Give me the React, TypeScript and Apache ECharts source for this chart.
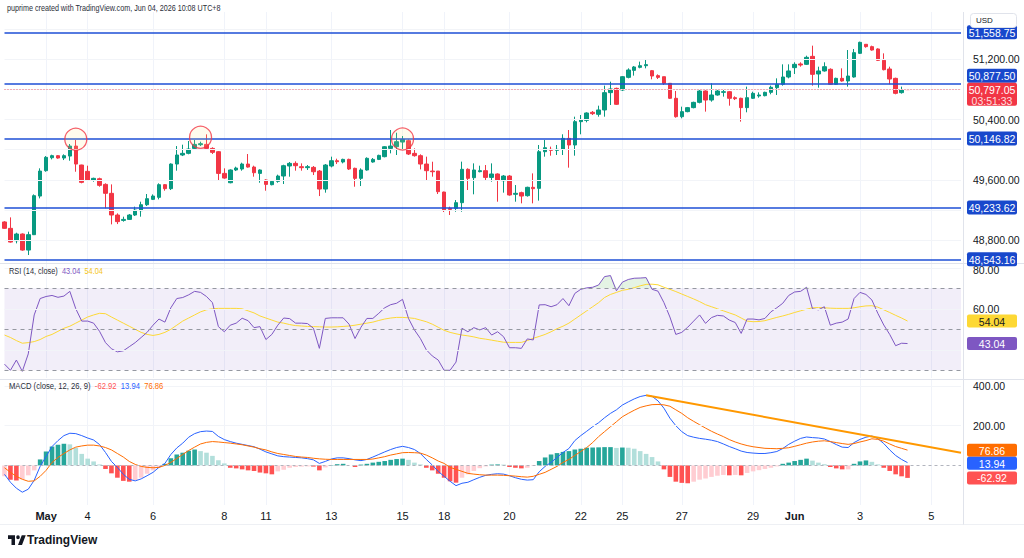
import React, { useEffect, useRef } from "react";
import * as echarts from "echarts";

const FONT = "'Liberation Sans', Arial, Roboto, sans-serif";

// 4-hour bars: [open, high, low, close]
const ohlc: number[][] = [
  [49040, 49050, 48950, 48955], [48955, 49101, 48765, 48773], [48791, 48897, 48756, 48880], [48880, 48888, 48658, 48667],
  [48667, 48911, 48601, 48871], [48871, 49406, 48866, 49389], [49384, 49752, 49353, 49716], [49721, 49915, 49707, 49898],
  [49893, 49933, 49871, 49920], [49920, 49929, 49880, 49889], [49889, 49938, 49862, 49920], [49915, 50075, 49853, 50048],
  [50048, 50128, 49707, 49809], [49796, 49800, 49553, 49566], [49712, 49787, 49588, 49597], [49597, 49628, 49575, 49619],
  [49614, 49628, 49508, 49526], [49539, 49553, 49221, 49420], [49420, 49539, 49008, 49132], [49132, 49154, 49012, 49044],
  [49061, 49110, 49044, 49074], [49074, 49145, 49066, 49132], [49132, 49243, 49119, 49198], [49190, 49309, 49110, 49269],
  [49269, 49411, 49252, 49349], [49340, 49406, 49331, 49384], [49367, 49553, 49340, 49535], [49535, 49544, 49455, 49482],
  [49482, 49818, 49464, 49809], [49809, 50048, 49721, 49929], [49929, 50066, 49915, 49951], [49951, 50115, 49938, 50008],
  [50017, 50128, 50004, 50070], [50066, 50106, 50048, 50079], [50070, 50203, 50008, 50017], [50017, 50031, 49942, 49964],
  [49973, 49982, 49597, 49685], [49685, 49752, 49614, 49623], [49561, 49738, 49553, 49730], [49730, 49774, 49716, 49756],
  [49743, 49827, 49721, 49809], [49809, 49942, 49761, 49769], [49769, 49787, 49641, 49694], [49685, 49738, 49561, 49730],
  [49597, 49606, 49455, 49539], [49535, 49597, 49526, 49579], [49579, 49668, 49561, 49650], [49650, 49800, 49544, 49787],
  [49783, 49836, 49641, 49818], [49818, 49845, 49721, 49787], [49774, 49818, 49721, 49761], [49761, 49796, 49730, 49774],
  [49765, 49783, 49663, 49707], [49716, 49730, 49384, 49477], [49477, 49809, 49429, 49796], [49783, 49907, 49765, 49853],
  [49853, 49880, 49809, 49840], [49836, 49880, 49818, 49871], [49871, 49880, 49730, 49743], [49752, 49761, 49508, 49619],
  [49619, 49752, 49517, 49730], [49730, 49898, 49721, 49885], [49836, 49889, 49827, 49871], [49871, 49933, 49862, 49924],
  [49907, 50048, 49898, 50039], [50017, 50261, 49951, 50048], [50039, 50225, 49929, 50106], [50101, 50181, 49995, 50137],
  [50119, 50137, 49929, 49942], [49951, 50017, 49907, 49920], [49920, 49938, 49738, 49809], [49809, 49907, 49597, 49721],
  [49716, 49840, 49641, 49707], [49716, 49716, 49411, 49442], [49437, 49442, 49172, 49198], [49221, 49243, 49132, 49207],
  [49221, 49331, 49176, 49296], [49296, 49841, 49176, 49739], [49739, 49752, 49464, 49619], [49628, 49818, 49407, 49730],
  [49708, 49787, 49699, 49721], [49721, 49796, 49597, 49632], [49632, 49818, 49575, 49677], [49677, 49685, 49309, 49597],
  [49588, 49663, 49429, 49650], [49650, 49663, 49389, 49398], [49407, 49530, 49309, 49420], [49429, 49442, 49287, 49384],
  [49389, 49508, 49376, 49500], [49500, 49685, 49287, 49482], [49486, 50062, 49323, 49973], [49973, 50128, 49907, 50026],
  [50004, 50040, 49920, 49991], [49991, 50062, 49929, 50004], [50004, 50204, 49929, 50150], [50150, 50261, 49761, 50062],
  [50062, 50438, 49920, 50372], [50372, 50460, 50204, 50394], [50389, 50496, 50363, 50487], [50496, 50513, 50460, 50478],
  [50469, 50584, 50438, 50527], [50527, 50850, 50438, 50757], [50757, 50903, 50593, 50806], [50814, 50823, 50593, 50602],
  [50792, 50978, 50779, 50969], [50960, 51080, 50947, 51058], [51053, 51111, 50983, 51098], [51093, 51169, 51080, 51115],
  [51115, 51204, 51080, 51129], [51049, 51058, 50934, 50978], [50983, 51000, 50938, 50960], [50969, 50969, 50859, 50881],
  [50881, 50881, 50673, 50682], [50682, 50779, 50425, 50438], [50438, 50571, 50416, 50505], [50505, 50567, 50496, 50558],
  [50558, 50637, 50549, 50628], [50628, 50792, 50615, 50779], [50779, 50788, 50505, 50659], [50659, 50881, 50637, 50726],
  [50726, 50792, 50717, 50779], [50761, 50806, 50704, 50770], [50770, 50779, 50584, 50682], [50690, 50708, 50659, 50677],
  [50682, 50690, 50372, 50558], [50558, 50837, 50496, 50690], [50682, 50770, 50673, 50748], [50713, 50761, 50690, 50726],
  [50717, 50770, 50708, 50761], [50761, 50850, 50735, 50828], [50823, 50947, 50726, 50868], [50868, 51133, 50850, 50965],
  [50965, 51133, 50947, 51045], [51089, 51160, 51005, 51133], [51138, 51160, 51102, 51124], [51133, 51248, 51124, 51226],
  [51239, 51381, 50850, 51000], [51005, 51102, 50823, 51045], [51045, 51160, 51036, 51102], [51067, 51080, 50859, 50868],
  [50868, 50956, 50859, 50947], [50947, 51080, 50903, 50912], [50912, 51323, 50837, 50978], [50965, 51337, 50956, 51288],
  [51279, 51434, 51270, 51425], [51399, 51403, 51354, 51368], [51368, 51381, 51315, 51323], [51337, 51346, 51177, 51186],
  [51186, 51279, 51053, 51062], [51071, 51102, 50868, 50938], [50947, 50956, 50735, 50748], [50757, 50837, 50744, 50792],
  [50799, 50803, 50792, 50797.05],
];

const rsi = [
  33, 30, 35, 29.5, 38, 57, 65, 66, 66.5, 65.6,
  66.2, 68.5, 60, 54, 54, 53, 49, 43.5, 40.5, 39,
  39.5, 41.5, 43.5, 46, 48.5, 52, 55, 53.5, 60.5, 65,
  65.5, 66.8, 68.5, 68, 66, 63, 51.3, 48.8, 52, 53,
  55.4, 54.2, 50.8, 51.3, 45, 47.5, 52, 55.5, 55.2, 53,
  53, 52.8, 50.5, 40.7, 55.3, 55.6, 55.6, 55.6, 52.5, 45.5,
  51, 55.3, 55.3, 57.8, 60.5, 62, 62.7, 64.6, 55.3, 49.7,
  45.5, 40, 37, 35, 30, 30, 34, 50.5, 48.8, 50.8,
  49.7, 50.8, 47.2, 48.8, 46.4, 41, 41, 40.7, 45.3, 44.8,
  61.9, 62, 61, 62, 65, 61.5, 67.5, 69.5, 70.2, 70.5,
  71.6, 75.7, 76.2, 68.8, 73, 74.3, 74.9, 75, 75.2, 69.5,
  68.6, 63, 56, 47.5, 48.5, 51, 54, 57, 52.9, 55.7,
  56.8, 56.5, 54.5, 53.3, 48, 55, 55, 54.6, 55.3, 58.5,
  60.5, 62.7, 66.5, 68.2, 68.5, 70.5, 60, 59.5, 61, 52,
  53, 53.5, 55, 65, 68, 67, 64.3, 57.8, 52.1, 47.5,
  42, 43.2, 43.04,
];

const rsiMa = [
  47.2, 46, 44.5, 43.2, 43.5, 44, 45, 46.5, 47.5, 49,
  50.5, 51.5, 53, 54.5, 56, 57, 57.8, 57.6, 56, 54.5,
  53, 51.5, 50, 48.5, 47.5, 47, 47.5, 48.5, 50, 52,
  54, 55.5, 57, 58.5, 59.5, 60, 60.2, 60.2, 60.2, 60.2,
  60, 59, 58, 56.5, 55.5, 54.5, 53.5, 53, 52.3, 51.8,
  51.6, 51.4, 51.3, 51.2, 51.1, 51.1, 51.2, 51.4, 51.6, 52,
  52.5, 53, 53.5, 54.3, 55, 55.5, 55.8, 55.8, 55.6, 55.3,
  54.5, 53.7, 52.5, 51, 49.5, 48.5, 47.8, 47.2, 46.8, 46.3,
  45.6, 45.2, 44.7, 44.2, 43.7, 43.6, 43.6, 43.6, 44.5, 45.6,
  46.5, 47.5, 48.8, 50.3, 51.5, 53, 55, 57, 59, 61,
  63, 65.5, 67, 68, 69, 69.5, 70.3, 71.2, 71.9, 72,
  71.7, 70.5, 69.5, 68.4, 67.2, 66, 64.8, 63.5, 62, 61,
  60, 59, 58, 57, 55.5, 54, 53.7, 53.8, 54.2, 55,
  55.8, 56.5, 57.3, 58.2, 59, 59.8, 60.5, 60.6, 60.5, 60.3,
  60.2, 60.2, 60.2, 60.5, 61, 61.4, 61.5, 60.8, 59.5, 58.2,
  56.8, 55.5, 54.04,
];

const macd = [
  -45, -85, -115, -135, -120, -75, -5, 45, 95, 125,
  150, 162, 160, 150, 138, 128, 105, 65, 20, -10,
  -45, -70, -78, -68, -52, -35, -10, 10, 55, 88,
  112, 142, 160, 170, 173, 171, 146, 130, 120, 112,
  106, 100, 94, 82, 68, 58, 48, 44, 42, 40,
  38, 34, 28, 10, 20, 32, 38, 38, 34, 28,
  24, 30, 42, 55, 68, 80, 90, 96, 90, 80,
  60, 30, 2, -30, -55, -80, -102, -90, -85, -72,
  -60, -50, -45, -42, -44, -52, -62, -70, -74, -72,
  -32, -5, 15, 40, 65, 85, 125, 150, 172, 195,
  215, 240, 262, 280, 304, 320, 335, 347, 353, 348,
  325, 288, 238, 200, 170, 150, 142, 136, 132, 127,
  120, 108, 95, 84, 72, 65, 62, 60, 60, 64,
  70, 85, 106, 122, 136, 143, 140, 138, 133, 120,
  105, 92, 90, 115, 131, 142, 148, 135, 110, 78,
  50, 30, 13.94,
];

const signal = [
  -12, -35, -55, -70, -80, -78, -55, -25, 15, 40,
  60, 78, 92, 98, 102, 102, 98, 90, 78, 60,
  42, 20, 5, -5, -10, -12, -10, 0, 15, 35,
  55, 75, 92, 108, 116, 120, 118, 115, 112, 108,
  104, 98, 92, 84, 78, 68, 60, 55, 50, 45,
  42, 40, 36, 33, 31, 30, 30, 30, 30, 30,
  30, 30, 32, 38, 44, 52, 58, 64, 65, 64,
  62, 52, 38, 22, 10, -10, -20, -30, -40, -44,
  -47, -49, -49, -49, -50, -52, -54, -57, -59, -55,
  -45, -35, -20, -5, 15, 30, 50, 70, 90, 115,
  145, 170, 195, 220, 245, 262, 278, 292, 300, 306,
  307, 305, 298, 280, 262, 240, 222, 205, 188, 172,
  158, 145, 130, 118, 108, 100, 94, 90, 86, 85,
  84, 86, 89, 96, 104, 112, 118, 122, 124, 120,
  115, 110, 106, 110, 118, 125, 134, 131, 122, 108,
  95, 86, 76.86,
];

const hist = [
  -55, -72, -76, -70, -50, -25, 30, 70, 95, 104,
  109, 106, 88, 58, 34, 20, 5, -18, -40, -62,
  -78, -82, -74, -62, -42, -25, -10, 8, 36, 55,
  64, 74, 80, 72, 64, 48, 26, 10, -12, -15,
  -20, -25, -28, -36, -40, -45, -30, -22, -12, -8,
  -6, -5, -6, -25, -10, 2, 6, 8, 0, -8,
  4, 8, 14, 18, 22, 28, 32, 34, 28, 14,
  5, -12, -25, -42, -62, -80, -87, -62, -45, -28,
  -14, -5, 4, 5, 4, -8, -12, -15, -12, -2,
  22, 40, 55, 62, 68, 72, 80, 84, 89, 90,
  91, 92, 92, 88, 90, 89, 84, 72, 58, 42,
  20, -20, -58, -82, -88, -90, -82, -72, -66, -58,
  -52, -48, -50, -48, -50, -38, -30, -24, -18, -12,
  -5, 8, 14, 22, 28, 34, 24, 14, 6, -8,
  -15, -20, -20, 8, 20, 25, 18, 5, -12, -28,
  -45, -55, -62.92,
];

// time scale: bar slots (including empty space to the right of the last bar)
const TOTAL_SLOTS = 162;
const dayTickIndex = [7, 14, 25, 37, 44, 55, 67, 74, 85, 97, 104, 114, 126, 133, 144, 156];
const dayTickText = ["May", "4", "6", "8", "11", "13", "15", "18", "20", "22", "25", "27", "29", "Jun", "3", "5"];

const priceTicks = [48800, 49200, 49600, 50000, 50400, 50800, 51200, 51600];
const levels = [51558.75, 50877.5, 50146.82, 49233.62, 48543.16];
const lastPrice = 50797.05;
const countdown = "03:51:33";
const circleIdx = [12, 33, 67];
const circlePrice = [50138, 50164, 50142];

const rsiTicks = [40, 60, 80];
const rsiBands = [30, 50, 70];
const macdTicks = [0, 200, 400];
const macdTrend = [[108, 353], [161, 64]];

// TradingView mark
const LOGO_D =
  "M14 22H7V11H0V4h14v18z M28 22h-8l7.5-18h8L28 22z M20 4a3.6 3.6 0 1 1 0 7.2a3.6 3.6 0 0 1 0-7.2z";

const UP = "#089981";
const DOWN = "#F23645";
const LEVEL = "#1E4FD6";
const LEVEL_BOX = "#1848CC";
const LABEL_SIZE = 10.5;

const fmt = (v: number) =>
  v.toLocaleString("en-US", { minimumFractionDigits: 2, maximumFractionDigits: 2 });

let logoRegistered = false;

export default function App() {
  const ref = useRef<HTMLDivElement>(null);

  useEffect(() => {
    if (!ref.current) return;
    if (!logoRegistered) {
      echarts.graphic.registerShape("tvLogo", echarts.graphic.extendPath(LOGO_D, {}) as any);
      logoRegistered = true;
    }
    const chart = echarts.init(ref.current, null, { renderer: "svg" });
    const cats = Array.from({ length: TOTAL_SLOTS }, (_, i) => String(i));
    const tickSet = new Set(dayTickIndex);
    const gridBase = { left: 4.5, width: 956.5 };
    const panes = [
      { top: 12, height: 251 },
      { top: 264, height: 114 },
      { top: 380, height: 125 },
    ];
    const vline = { show: true, interval: (i: number) => tickSet.has(i), lineStyle: { color: "#F0F3FA", width: 1 } };

    const xAxis = [0, 1, 2].map((g) => ({
      type: "category",
      gridIndex: g,
      data: cats,
      boundaryGap: false,
      axisLine: { show: false },
      axisTick: { show: false },
      splitLine: vline,
      axisLabel:
        g === 2
          ? {
              show: true,
              interval: (i: number) => tickSet.has(i),
              margin: 5,
              color: "#131722",
              fontSize: 11,
              fontFamily: FONT,
              formatter: (v: string) => {
                const k = dayTickIndex.indexOf(Number(v));
                if (k < 0) return "";
                const t = dayTickText[k];
                return /^[A-Za-z]/.test(t) ? `{m|${t}}` : t;
              },
              rich: { m: { fontWeight: "bold", fontSize: 11, fontFamily: FONT, color: "#131722" } },
            }
          : { show: false },
    }));

    const hiddenY = (g: number, min: number, max: number) => ({
      type: "value",
      gridIndex: g,
      min,
      max,
      position: "right",
      axisLine: { show: false },
      axisTick: { show: false },
      axisLabel: { show: false },
      splitLine: { show: false },
    });

    const obBase = rsi.map(() => 70);
    const obTop = rsi.map((v) => Math.max(v - 70, 0));
    const osBase = rsi.map((v) => Math.min(v, 30));
    const osTop = rsi.map((v) => 30 - Math.min(v, 30));

    const option: any = {
      animation: false,
      backgroundColor: "#ffffff",
      grid: panes.map((p) => ({ ...gridBase, ...p })),
      xAxis,
      yAxis: [hiddenY(0, 48495, 51828), hiddenY(1, 26.24, 81.85), hiddenY(2, -199.5, 430.2)],
      series: [
        {
          type: "line",
          xAxisIndex: 0,
          yAxisIndex: 0,
          data: [],
          z: 1,
          silent: true,
          markLine: {
            silent: true,
            symbol: "none",
            label: { show: false },
            lineStyle: { color: "#F2F4F8", width: 1, type: "solid" },
            data: priceTicks.map((v) => ({ yAxis: v })),
          },
        },
        {
          type: "candlestick",
          xAxisIndex: 0,
          yAxisIndex: 0,
          barWidth: 4,
          data: ohlc.map(([o, h, l, c]) => [o, c, l, h]),
          itemStyle: { color: UP, color0: DOWN, borderColor: UP, borderColor0: DOWN, borderWidth: 1 },
          markLine: {
            silent: true,
            symbol: "none",
            label: { show: false },
            data: [
              ...levels.map((v) => ({ yAxis: v, lineStyle: { color: LEVEL, width: 1.6, type: "solid" } })),
              { yAxis: lastPrice, lineStyle: { color: DOWN, width: 1, type: [1, 2], opacity: 0.75 } },
            ],
          },
        },
        {
          type: "scatter",
          xAxisIndex: 0,
          yAxisIndex: 0,
          z: 5,
          silent: true,
          symbol: "circle",
          symbolSize: 22,
          data: circleIdx.map((i, k) => [i, circlePrice[k]]),
          itemStyle: { color: "rgba(255, 236, 130, 0.18)", borderColor: "#F23645", borderWidth: 1.3 },
        },
        {
          type: "line",
          xAxisIndex: 1,
          yAxisIndex: 1,
          data: [],
          z: 1,
          silent: true,
          markArea: {
            silent: true,
            itemStyle: { color: "rgba(126, 87, 194, 0.1)" },
            data: [[{ yAxis: 30 }, { yAxis: 70 }]],
          },
          markLine: {
            silent: true,
            symbol: "none",
            label: { show: false },
            data: [
              ...rsiTicks.map((v) => ({ yAxis: v, lineStyle: { color: "#F2F4F8", width: 1, type: "solid" } })),
              ...rsiBands.map((v) => ({ yAxis: v, lineStyle: { color: "#9598A1", width: 1, type: [4, 4] } })),
            ],
          },
        },
        {
          type: "line", xAxisIndex: 1, yAxisIndex: 1, stack: "ob", data: obBase, symbol: "none",
          lineStyle: { opacity: 0 }, silent: true, z: 2,
        },
        {
          type: "line", xAxisIndex: 1, yAxisIndex: 1, stack: "ob", data: obTop, symbol: "none",
          lineStyle: { opacity: 0 }, areaStyle: { color: "rgba(76, 175, 80, 0.22)" }, silent: true, z: 2,
        },
        {
          type: "line", xAxisIndex: 1, yAxisIndex: 1, stack: "os", data: osBase, symbol: "none",
          lineStyle: { opacity: 0 }, silent: true, z: 2,
        },
        {
          type: "line", xAxisIndex: 1, yAxisIndex: 1, stack: "os", data: osTop, symbol: "none",
          lineStyle: { opacity: 0 }, areaStyle: { color: "rgba(242, 54, 69, 0.18)" }, silent: true, z: 2,
        },
        {
          type: "line", xAxisIndex: 1, yAxisIndex: 1, data: rsiMa, symbol: "none", z: 3,
          lineStyle: { color: "#FDD835", width: 1 },
        },
        {
          type: "line", xAxisIndex: 1, yAxisIndex: 1, data: rsi, symbol: "none", z: 4,
          lineStyle: { color: "#7E57C2", width: 1 },
        },
        {
          type: "line",
          xAxisIndex: 2,
          yAxisIndex: 2,
          data: [],
          z: 1,
          silent: true,
          markLine: {
            silent: true,
            symbol: "none",
            label: { show: false },
            data: macdTicks.map((v) =>
              v === 0
                ? { yAxis: v, lineStyle: { color: "#B2B5BE", width: 1, type: [3, 3] } }
                : { yAxis: v, lineStyle: { color: "#F2F4F8", width: 1, type: "solid" } }
            ),
          },
        },
        {
          type: "bar",
          xAxisIndex: 2,
          yAxisIndex: 2,
          data: hist,
          barWidth: 4.6,
          z: 2,
          itemStyle: {
            color: (p: any) => {
              const i = p.dataIndex;
              const v = hist[i];
              const prev = i > 0 ? hist[i - 1] : v;
              if (v >= 0) return v >= prev ? "#26A69A" : "#B2DFDB";
              return v < prev ? "#FF5252" : "#FFCDD2";
            },
          },
        },
        {
          type: "line", xAxisIndex: 2, yAxisIndex: 2, data: macd, symbol: "none", z: 3,
          lineStyle: { color: "#2962FF", width: 1 },
        },
        {
          type: "line",
          xAxisIndex: 2,
          yAxisIndex: 2,
          data: signal,
          symbol: "none",
          z: 3,
          lineStyle: { color: "#FF6D00", width: 1 },
          markLine: {
            silent: true,
            symbol: "none",
            label: { show: false },
            lineStyle: { color: "#FF9800", width: 2, type: "solid" },
            data: [[{ coord: macdTrend[0] }, { coord: macdTrend[1] }]],
          },
        },
      ],
    };

    chart.setOption(option);

    // Right-hand scale labels and value badges, placed through the axes' own scales.
    const py = (axis: number, v: number) => chart.convertToPixel({ yAxisIndex: axis } as any, v) as number;
    const AX = 967;
    const BW = 50;
    const g: any[] = [];
    let occupied: { top: number; bottom: number }[] = [];

    const badge = (yc: number, h: number, fill: string, text: string, color: string) => {
      occupied.push({ top: yc - h / 2, bottom: yc + h / 2 });
      g.push({ type: "rect", z: 110, shape: { x: AX, y: yc - h / 2, width: BW, height: h, r: 2 }, style: { fill } });
      g.push({
        type: "text",
        z: 111,
        x: AX + BW / 2,
        y: yc + 0.5,
        style: { text, fill: color, fontSize: LABEL_SIZE, fontFamily: FONT, align: "center", verticalAlign: "middle" },
      });
    };
    // scale labels give way to value badges of their own pane, and stay inside it
    const tick = (pane: number, y: number, text: string) => {
      const p = panes[pane];
      const yy = Math.min(Math.max(y, p.top + 6), p.top + p.height - 6);
      const hidden = occupied.some((o) => yy + 5 > o.top && yy - 5 < o.bottom);
      if (hidden) return;
      g.push({
        type: "text", z: 100, x: 973, y: yy,
        style: { text, fill: "#131722", fontSize: LABEL_SIZE, fontFamily: FONT, align: "left", verticalAlign: "middle" },
      });
    };
    // stack badges so they never overlap
    const stackBadges = (items: { y: number; h: number }[], fixed?: { top: number; bottom: number }) => {
      const sorted = items.slice().sort((a, b) => a.y - b.y);
      let lastBottom = -Infinity;
      sorted.forEach((b) => {
        if (fixed && b.y + b.h / 2 > fixed.top && b.y - b.h / 2 < fixed.bottom) {
          b.y = b.y < (fixed.top + fixed.bottom) / 2 ? fixed.top - b.h / 2 : fixed.bottom + b.h / 2;
        }
        if (b.y - b.h / 2 < lastBottom) b.y = lastBottom + b.h / 2;
        lastBottom = b.y + b.h / 2;
      });
    };

    // separators
    const line = (x1: number, y1: number, x2: number, y2: number, stroke = "#E0E3EB") =>
      g.push({ type: "line", z: 90, shape: { x1, y1, x2, y2 }, style: { stroke, lineWidth: 1 } });
    line(0, 263.5, 1024, 263.5);
    line(0, 379.5, 1024, 379.5);
    line(0, 524.5, 1024, 524.5, "#EEF0F4");
    line(963.5, 12, 963.5, 524.5);

    // price scale
    const curY = py(0, lastPrice);
    const cur = { top: curY - 7, bottom: curY + 16 };
    const lvl = levels.map((v) => ({ y: py(0, v), h: 14, v }));
    stackBadges(lvl, cur);
    lvl.forEach((b) => badge(b.y, b.h, LEVEL_BOX, fmt(b.v), "#ffffff"));
    occupied.push(cur);
    g.push({ type: "rect", z: 110, shape: { x: AX, y: cur.top, width: BW, height: cur.bottom - cur.top, r: 2 }, style: { fill: DOWN } });
    g.push({
      type: "text", z: 111, x: AX + BW / 2, y: curY + 0.5,
      style: { text: fmt(lastPrice), fill: "#ffffff", fontSize: LABEL_SIZE, fontFamily: FONT, align: "center", verticalAlign: "middle" },
    });
    g.push({
      type: "text", z: 111, x: AX + BW / 2, y: curY + 11.5,
      style: { text: countdown, fill: "rgba(255,255,255,0.85)", fontSize: LABEL_SIZE, fontFamily: FONT, align: "center", verticalAlign: "middle" },
    });
    const usd = { top: 13.5, bottom: 27.5 };
    occupied.push(usd);
    g.push({ type: "rect", z: 120, shape: { x: 970.5, y: usd.top, width: 46, height: usd.bottom - usd.top, r: 3 }, style: { fill: "#ffffff", stroke: "#E0E3EB", lineWidth: 1 } });
    g.push({
      type: "text", z: 121, x: 976, y: (usd.top + usd.bottom) / 2,
      style: { text: "USD", fill: "#131722", fontSize: 8, fontFamily: FONT, align: "left", verticalAlign: "middle" },
    });
    priceTicks.forEach((v) => tick(0, py(0, v), fmt(v)));

    // RSI scale
    occupied = [];
    const rsiB = [
      { y: py(1, rsiMa[rsiMa.length - 1]), h: 13, fill: "#FDD835", color: "#131722", text: rsiMa[rsiMa.length - 1].toFixed(2) },
      { y: py(1, rsi[rsi.length - 1]), h: 13, fill: "#7E57C2", color: "#ffffff", text: rsi[rsi.length - 1].toFixed(2) },
    ];
    stackBadges(rsiB);
    rsiB.forEach((b) => badge(b.y, b.h, b.fill, b.text, b.color));
    rsiTicks.forEach((v) => tick(1, py(1, v), v.toFixed(2)));

    // MACD scale
    occupied = [];
    const lastHist = hist[hist.length - 1];
    const macdB = [
      { y: py(2, signal[signal.length - 1]), h: 13, fill: "#FF6D00", color: "#ffffff", text: signal[signal.length - 1].toFixed(2) },
      { y: py(2, macd[macd.length - 1]), h: 13, fill: "#2962FF", color: "#ffffff", text: macd[macd.length - 1].toFixed(2) },
      { y: py(2, lastHist), h: 13, fill: "#FF5252", color: "#ffffff", text: lastHist.toFixed(2) },
    ];
    stackBadges(macdB);
    macdB.forEach((b) => badge(b.y, b.h, b.fill, b.text, b.color));
    macdTicks.forEach((v) => tick(2, py(2, v), v.toFixed(2)));

    // header and pane legends (narrow UI type)
    g.push({
      type: "text", z: 100, x: 7, y: 8, scaleX: 0.8,
      style: { text: "puprime created with TradingView.com, Jun 04, 2026 10:08 UTC+8", fill: "#2A2E39", fontSize: 9, fontFamily: FONT, align: "left", verticalAlign: "middle" },
    });
    g.push({
      type: "text", z: 100, x: 9, y: 271, scaleX: 0.82,
      style: {
        text: `{a|RSI (14, close)}  {b|${rsi[rsi.length - 1].toFixed(2)}}  {c|${rsiMa[rsiMa.length - 1].toFixed(2)}}`,
        fontSize: 9, fontFamily: FONT, verticalAlign: "middle", align: "left",
        rich: {
          a: { fill: "#2A2E39", fontSize: 9, fontFamily: FONT },
          b: { fill: "#7E57C2", fontSize: 9, fontFamily: FONT },
          c: { fill: "#F5C518", fontSize: 9, fontFamily: FONT },
        },
      },
    });
    g.push({
      type: "text", z: 100, x: 9, y: 386, scaleX: 0.85,
      style: {
        text: `{a|MACD (close, 12, 26, 9)}  {r|${lastHist.toFixed(2)}}  {b|${macd[macd.length - 1].toFixed(2)}}  {o|${signal[signal.length - 1].toFixed(2)}}`,
        fontSize: 9, fontFamily: FONT, verticalAlign: "middle", align: "left",
        rich: {
          a: { fill: "#2A2E39", fontSize: 9, fontFamily: FONT },
          r: { fill: "#FF5252", fontSize: 9, fontFamily: FONT },
          b: { fill: "#2962FF", fontSize: 9, fontFamily: FONT },
          o: { fill: "#FF6D00", fontSize: 9, fontFamily: FONT },
        },
      },
    });

    // footer mark
    g.push({ type: "tvLogo", z: 100, x: 8, y: 533, scaleX: 0.5, scaleY: 0.55, style: { fill: "#131722" } });
    g.push({
      type: "text", z: 100, x: 27, y: 540, scaleX: 0.92,
      style: { text: "TradingView", fill: "#131722", fontSize: 13, fontWeight: "bold", fontFamily: FONT, align: "left", verticalAlign: "middle" },
    });

    chart.setOption({ graphic: g });

    return () => chart.dispose();
  }, []);

  return (
    <div style={{ position: "fixed", left: 0, top: 0, width: 1024, height: 558, background: "#ffffff" }}>
      <div ref={ref} style={{ width: 1024, height: 558 }} />
    </div>
  );
}
